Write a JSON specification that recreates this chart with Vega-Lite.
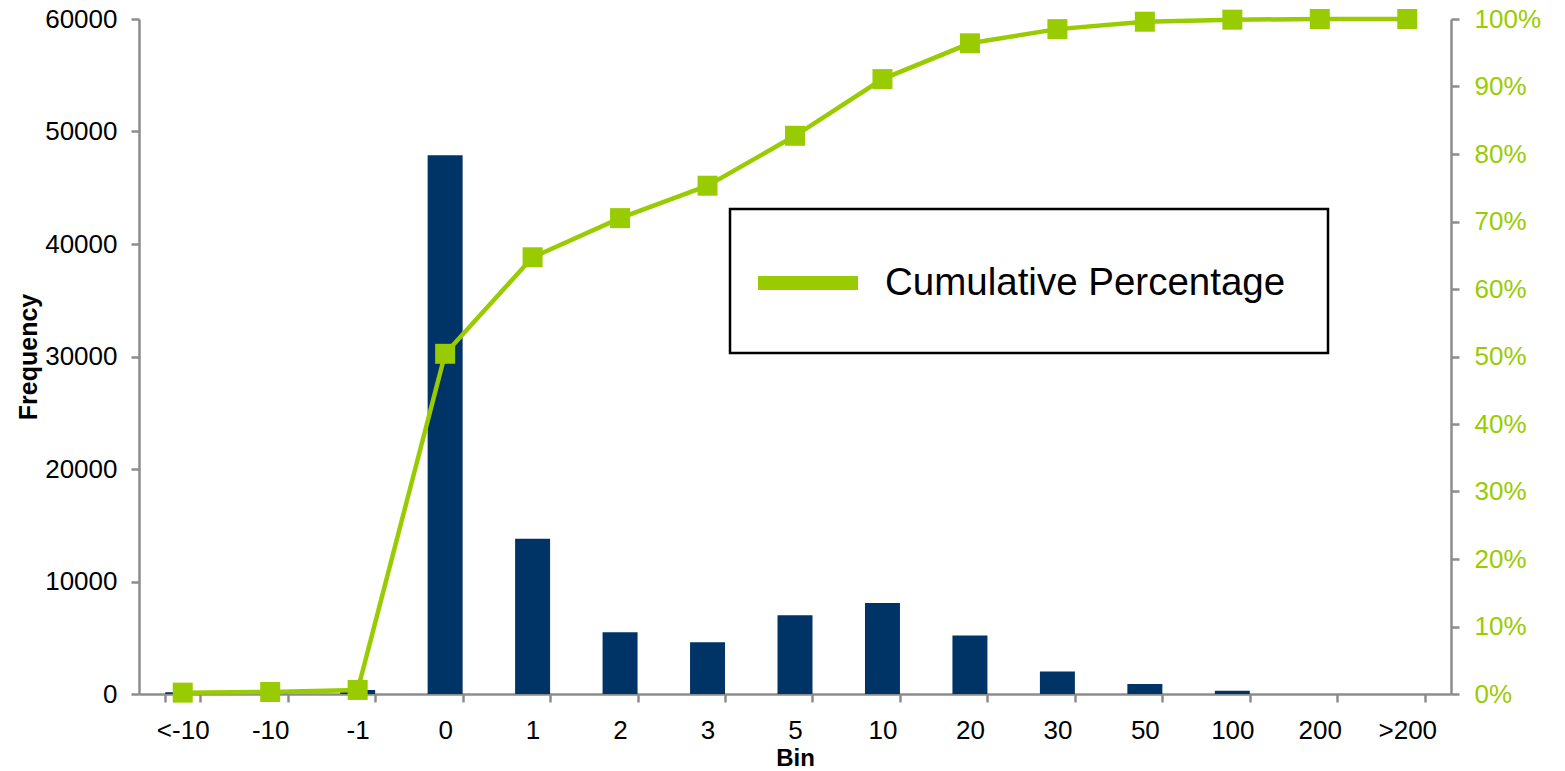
{
  "$schema": "https://vega.github.io/schema/vega-lite/v6.json",
  "autosize": "none",
  "width": 1312,
  "height": 675,
  "padding": {"left": 139, "top": 19, "right": 114, "bottom": 77},
  "background": "white",
  "data": {
    "values": [
      {"bin": "<-10", "freq": 150, "cum": 0.002},
      {"bin": "-10", "freq": 100, "cum": 0.003},
      {"bin": "-1", "freq": 350, "cum": 0.006},
      {"bin": "0", "freq": 47900, "cum": 0.504},
      {"bin": "1", "freq": 13800, "cum": 0.647},
      {"bin": "2", "freq": 5500, "cum": 0.705},
      {"bin": "3", "freq": 4600, "cum": 0.753},
      {"bin": "5", "freq": 7000, "cum": 0.827},
      {"bin": "10", "freq": 8100, "cum": 0.911},
      {"bin": "20", "freq": 5200, "cum": 0.964},
      {"bin": "30", "freq": 2000, "cum": 0.985},
      {"bin": "50", "freq": 900, "cum": 0.996},
      {"bin": "100", "freq": 300, "cum": 0.999},
      {"bin": "200", "freq": 0, "cum": 1.0},
      {"bin": ">200", "freq": 0, "cum": 1.0}
    ]
  },
  "encoding": {
    "x": {
      "field": "bin",
      "type": "ordinal",
      "sort": null,
      "scale": {"paddingInner": 0.6, "paddingOuter": 0.3},
      "axis": {
        "title": "Bin",
        "labelAngle": 0,
        "tickBand": "extent",
        "tickSize": 8,
        "labelPadding": 15,
        "titlePadding": 3,
        "titleFontSize": 24,
        "domainColor": "#8c8c8c",
        "tickColor": "#8c8c8c",
        "domainWidth": 2.5,
        "tickWidth": 2.5
      }
    }
  },
  "layer": [
    {
      "mark": {"type": "bar", "color": "#003366"},
      "encoding": {
        "y": {
          "field": "freq",
          "type": "quantitative",
          "scale": {"domain": [0, 60000], "nice": false},
          "axis": {
            "title": "Frequency",
            "orient": "left",
            "values": [0, 10000, 20000, 30000, 40000, 50000, 60000],
            "format": "d",
            "grid": false,
            "tickSize": 8,
            "labelPadding": 14,
            "titlePadding": 3,
            "domainColor": "#8c8c8c",
            "tickColor": "#8c8c8c",
            "domainWidth": 2.5,
            "tickWidth": 2.5
          }
        }
      }
    },
    {
      "layer": [
        {
          "mark": {"type": "line", "strokeWidth": 4.5},
          "encoding": {
            "y": {
              "field": "cum",
              "type": "quantitative",
              "scale": {"domain": [0, 1], "nice": false},
              "axis": {
                "title": null,
                "orient": "right",
                "values": [0, 0.1, 0.2, 0.3, 0.4, 0.5, 0.6, 0.7, 0.8, 0.9, 1],
                "format": ".0%",
                "grid": false,
                "tickSize": 8,
                "labelPadding": 15,
                "labelColor": "#99cc00",
                "domainColor": "#8c8c8c",
                "tickColor": "#8c8c8c",
                "domainWidth": 2.5,
                "tickWidth": 2.5
              }
            },
            "color": {
              "datum": "Cumulative Percentage",
              "scale": {"range": ["#99cc00"]},
              "legend": {
                "title": null,
                "orient": "none",
                "legendX": 591,
                "legendY": 190,
                "symbolType": "M-2,0H2",
                "symbolSize": 2500,
                "symbolStrokeWidth": 14,
                "symbolOffset": 4,
                "labelFontSize": 38.5,
                "labelFont": "Liberation Sans",
                "labelColor": "#000000",
                "labelOffset": 45,
                "labelLimit": 1000,
                "padding": 42,
                "strokeColor": "#000000",
                "fillColor": "#ffffff"
              }
            }
          }
        },
        {
          "mark": {"type": "point", "shape": "square", "filled": true, "size": 400, "color": "#99cc00", "opacity": 1},
          "encoding": {
            "y": {"field": "cum", "type": "quantitative"}
          }
        }
      ]
    }
  ],
  "resolve": {"scale": {"y": "independent"}},
  "config": {
    "view": {"stroke": null},
    "font": "Liberation Sans",
    "axis": {
      "labelFont": "Liberation Sans",
      "labelFontSize": 26,
      "labelColor": "#000000",
      "titleFont": "Liberation Sans",
      "titleFontSize": 25,
      "titleFontWeight": "bold",
      "titleColor": "#000000"
    },
    "legend": {"strokeWidth": 2.5}
  }
}
